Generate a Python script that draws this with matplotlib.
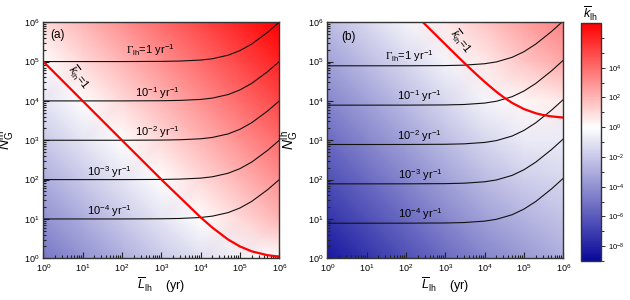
import numpy as np
import matplotlib
matplotlib.use("Agg")
import matplotlib.pyplot as plt
from matplotlib.colors import LinearSegmentedColormap, LogNorm
from matplotlib.ticker import LogLocator, FixedLocator, NullFormatter, LogFormatterSciNotation

plt.rcParams['font.family'] = ['Liberation Sans', 'DejaVu Sans']
plt.rcParams['mathtext.fontset'] = 'custom'
plt.rcParams['mathtext.rm'] = 'Liberation Sans'
plt.rcParams['mathtext.it'] = 'Liberation Sans:italic'
plt.rcParams['mathtext.sf'] = 'Liberation Serif'

# ---------------- data ----------------
grid_decades = [1e0, 1e1, 1e2, 1e3, 1e4, 1e5, 1e6]

# log10(k_lh) background, rows: N_G = 1e0..1e6, cols: L = 1e0..1e6
logk_a = [
    [-5.0, -4.0, -3.0, -2.0, -1.2, -0.5, -0.1],
    [-4.0, -3.0, -2.0, -1.0, 0.0, 1.0, 2.0],
    [-3.0, -2.0, -1.0, 0.0, 1.0, 2.0, 3.0],
    [-2.0, -1.0, 0.0, 1.0, 2.0, 3.0, 4.0],
    [-1.0, 0.0, 1.0, 2.0, 3.0, 4.0, 5.0],
    [0.0, 1.0, 2.0, 3.0, 4.0, 5.0, 6.0],
    [1.0, 2.0, 3.0, 4.0, 5.0, 6.0, 7.0],
]
logk_b = [
    [-8.4, -7.4, -6.4, -5.4, -4.5, -3.7, -3.0],
    [-7.4, -6.4, -5.4, -4.4, -3.5, -2.8, -2.2],
    [-6.4, -5.4, -4.4, -3.4, -2.5, -1.8, -1.5],
    [-5.4, -4.4, -3.4, -2.4, -1.5, -0.8, -0.8],
    [-4.4, -3.4, -2.4, -1.4, -0.4, 0.2, 0.6],
    [-3.4, -2.4, -1.4, -0.4, 0.6, 1.6, 2.4],
    [-2.4, -1.4, -0.4, 0.6, 1.6, 2.6, 3.4],
]

L_curve = [1e0, 1e1, 1e2, 1e3, 3e3, 1e4, 2e4, 5e4, 1e5, 2e5, 5e5, 1e6]

# panel (a) constant-Gamma curves
Na_g0 = [1e5, 1e5, 1e5, 1.01e5, 1.03e5, 1.09e5, 1.18e5, 1.45e5, 1.9e5, 2.8e5, 5.5e5, 1.0e6]
Na_g1 = [1e4, 1e4, 1e4, 1.01e4, 1.03e4, 1.09e4, 1.18e4, 1.45e4, 1.9e4, 2.8e4, 5.5e4, 1.0e5]
Na_g2 = [1e3, 1e3, 1e3, 1.01e3, 1.03e3, 1.09e3, 1.18e3, 1.45e3, 1.9e3, 2.8e3, 5.5e3, 1.0e4]
Na_g3 = [1e2, 1e2, 1e2, 1.01e2, 1.03e2, 1.09e2, 1.18e2, 1.45e2, 1.9e2, 2.8e2, 5.5e2, 1.0e3]
Na_g4 = [1e1, 1e1, 1e1, 1.01e1, 1.03e1, 1.09e1, 1.18e1, 1.45e1, 1.9e1, 2.8e1, 5.5e1, 1.0e2]

# panel (b) constant-Gamma curves
Nb_g0 = [7.8e4, 7.8e4, 7.81e4, 7.9e4, 8.1e4, 8.8e4, 9.8e4, 1.28e5, 1.78e5, 2.78e5, 5.78e5, 1.08e6]
Nb_g1 = [7.8e3, 7.8e3, 7.81e3, 7.9e3, 8.1e3, 8.8e3, 9.8e3, 1.28e4, 1.78e4, 2.78e4, 5.78e4, 1.08e5]
Nb_g2 = [7.8e2, 7.8e2, 7.81e2, 7.9e2, 8.1e2, 8.8e2, 9.8e2, 1.28e3, 1.78e3, 2.78e3, 5.78e3, 1.08e4]
Nb_g3 = [7.8e1, 7.8e1, 7.81e1, 7.9e1, 8.1e1, 8.8e1, 9.8e1, 1.28e2, 1.78e2, 2.78e2, 5.78e2, 1.08e3]
Nb_g4 = [7.8e0, 7.8e0, 7.81e0, 7.9e0, 8.1e0, 8.8e0, 9.8e0, 1.28e1, 1.78e1, 2.78e1, 5.78e1, 1.08e2]

# k_lh = 1 contours
La_k1 = [1e0, 1e1, 1e2, 1e3, 1e4, 2e4, 5e4, 1e5, 2e5, 5e5, 1e6]
Na_k1 = [1e5, 1e4, 1e3, 101, 11, 6, 3, 2, 1.5, 1.2, 1.1]
Lb_k1 = [270, 1e3, 2e3, 3e3, 5e3, 1e4, 2e4, 3e4, 5e4, 1e5, 2e5, 3e5, 5e5, 1e6]
Nb_k1 = [1.0e6, 2.74e5, 1.385e5, 9.35e4, 5.75e4, 3.05e4, 1.7e4, 1.25e4, 8.9e3,
         6.2e3, 4.85e3, 4.4e3, 4.04e3, 3.77e3]

gamma_labels = [r'$\mathsf{\Gamma}_{\rm lh}$=1 yr$^{-1}$', r'10$^{-1}$ yr$^{-1}$',
                r'10$^{-2}$ yr$^{-1}$', r'10$^{-3}$ yr$^{-1}$', r'10$^{-4}$ yr$^{-1}$']
cbar_major = [1e-8, 1e-6, 1e-4, 1e-2, 1e0, 1e2, 1e4]
cbar_minor = [1e-9, 1e-7, 1e-5, 1e-3, 1e-1, 1e1, 1e3, 1e5, 1e6]

# ---------------- figure ----------------
cmap = LinearSegmentedColormap.from_list(
    'kcm', [(0.0, '#08089a'), (9 / 16, '#ffffff'), (1.0, '#ff0000')])
norm = LogNorm(vmin=1e-9, vmax=1e7)

fig = plt.figure(figsize=(6.3, 3.0), dpi=100)
ax_a = fig.add_axes([0.0687, 0.139, 0.3746, 0.787])
ax_b = fig.add_axes([0.5195, 0.139, 0.3746, 0.787])
cax = fig.add_axes([0.922, 0.130, 0.0317, 0.793])

X, Y = np.meshgrid(grid_decades, grid_decades)


def style(ax):
    ax.set_xscale('log')
    ax.set_yscale('log')
    ax.set_xlim(1, 1e6)
    ax.set_ylim(1, 1e6)
    for axis in (ax.xaxis, ax.yaxis):
        axis.set_major_locator(LogLocator(base=10, numticks=10))
        axis.set_minor_locator(LogLocator(base=10, subs=np.arange(2, 10), numticks=10))
        axis.set_minor_formatter(NullFormatter())
    ax.tick_params(which='both', direction='in', top=False, right=False,
                   labelsize=6.5, color='#222222', width=0.8)
    ax.tick_params(which='major', length=4, pad=3)
    ax.tick_params(which='minor', length=2)
    for s in ax.spines.values():
        s.set_color('#333333')
        s.set_linewidth(1.0)
    ax.set_xlabel(r'$\overline{L}_{\rm lh}$    (yr)', fontsize=9)
    ax.set_ylabel(r'$N_{\rm G}^{\rm lh}$', fontsize=10)
    ax.xaxis.set_label_coords(0.5, -0.075)
    ax.yaxis.set_label_coords(-0.115, 0.5)


for ax, grid, curves, k1L, k1N, tag, tagpos, gpos, kpos in [
    (ax_a, logk_a, [Na_g0, Na_g1, Na_g2, Na_g3, Na_g4], La_k1, Na_k1, '(a)', (0.35, 5.68),
     [(2.72, 5.3), (2.9, 4.2), (2.9, 3.21), (1.67, 2.19), (1.67, 1.2)], (0.9, 4.6)),
    (ax_b, logk_b, [Nb_g0, Nb_g1, Nb_g2, Nb_g3, Nb_g4], Lb_k1, Nb_k1, '(b)', (0.53, 5.63),
     [(2.08, 5.14), (2.33, 4.12), (2.33, 3.11), (2.36, 2.12), (2.36, 1.13)], (3.38, 5.52)),
]:
    C = np.power(10.0, np.array(grid))
    mesh = ax.pcolormesh(X, Y, C, shading='gouraud', cmap=cmap, norm=norm, rasterized=True)
    for N in curves:
        ax.plot(L_curve, N, color='#111111', lw=0.8)
    ax.plot(k1L, k1N, color='#ff0000', lw=1.6, solid_capstyle='butt')
    style(ax)
    ax.text(10 ** tagpos[0], 10 ** tagpos[1], tag, fontsize=8.5, ha='center', va='center')
    for lab, (lx, ly) in zip(gamma_labels, gpos):
        ax.text(10 ** lx, 10 ** ly, lab, fontsize=8, ha='center', va='center')
    ax.text(10 ** kpos[0], 10 ** kpos[1], r'$\overline{k}_{\rm lh}$=1', fontsize=8,
            ha='center', va='center', rotation=-52, rotation_mode='anchor')

cb = fig.colorbar(mesh, cax=cax)
cb.outline.set_linewidth(1.0)
cb.outline.set_edgecolor('#333333')
cax.yaxis.set_major_locator(FixedLocator(cbar_major))
cax.yaxis.set_minor_locator(FixedLocator(cbar_minor))
cax.yaxis.set_major_formatter(LogFormatterSciNotation())
cax.yaxis.set_minor_formatter(NullFormatter())
cax.tick_params(which='both', direction='out', labelsize=5.5, color='#333333', width=0.7)
cax.tick_params(which='major', length=3, pad=2)
cax.tick_params(which='minor', length=2)
fig.text(0.9375, 0.955, r'$\overline{k}_{\rm lh}$', fontsize=9, ha='center', va='center')

fig.savefig('out.png', dpi=100)
